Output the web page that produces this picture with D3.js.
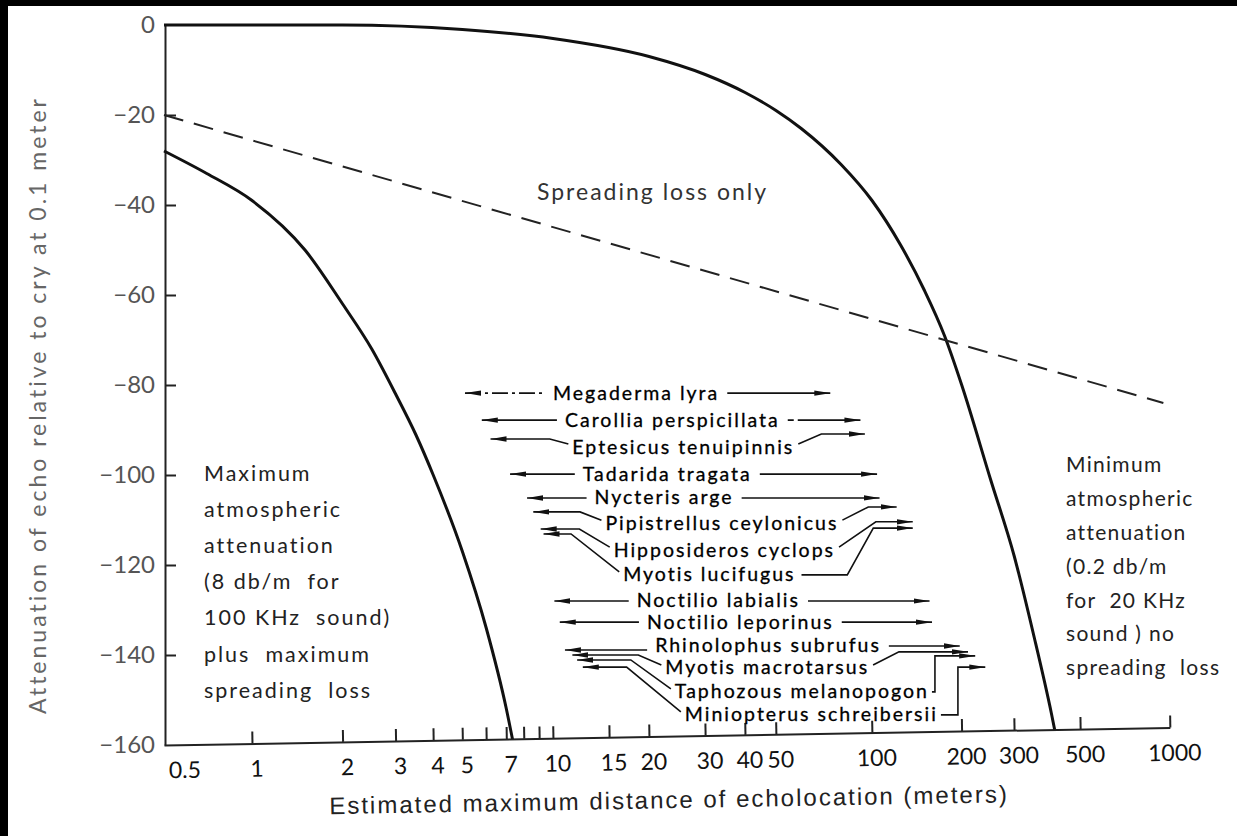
<!DOCTYPE html>
<html><head><meta charset="utf-8">
<script src="https://cdn.jsdelivr.net/npm/d3@7"></script>
<style>
body{margin:0;background:#fff;}
svg{display:block;font-family:Lato,"Noto Sans",sans-serif;}
</style>
</head><body>
<svg id="c" width="1237" height="836"></svg>
<script>
// ---------------- data ----------------
const xTickValues = [0.5,1,2,3,4,5,6,7,8,9,10,15,20,30,40,50,100,200,300,500,1000];
const xTickLabels = [0.5,1,2,3,4,5,7,10,15,20,30,40,50,100,200,300,500,1000];
const yTickValues = [0,-20,-40,-60,-80,-100,-120,-140,-160];

// Minimum atmospheric attenuation (0.2 db/m, 20 KHz), no spreading loss
const minAttDist = [0.5,2,5,10,20,30,40,50,60,80,100,125,150,175,200,250,300,350,400,420];
const minAttDb   = [0,0,-1,-3,-7,-11,-15,-19,-23,-31,-39,-49,-59,-69,-80,-101,-118,-136,-153,-160];

// Maximum atmospheric attenuation (8 db/m, 100 KHz) plus maximum spreading loss
const maxAttDist = [0.5,0.7,1,1.5,2,2.5,3,3.5,4,5,6,7,7.4];
const maxAttDb   = [-28,-33,-39,-50,-62,-72,-82,-91,-100,-117,-134,-152,-160];

// Spreading loss only
const spreadDist = [0.5,950];
const spreadDb   = [-20,-84];

// Bat species echolocation ranges (meters)
const species = ["Megaderma lyra","Carollia perspicillata","Eptesicus tenuipinnis","Tadarida tragata",
  "Nycteris arge","Pipistrellus ceylonicus","Hipposideros cyclops","Myotis lucifugus",
  "Noctilio labialis","Noctilio leporinus","Rhinolophus subrufus","Myotis macrotarsus",
  "Taphozous melanopogon","Miniopterus schreibersii"];
const rangeMin = [5.1,5.8,6.2,7.2,8.2,8.6,9.1,9.3,10.1,10.5,10.9,11.5,11.9,12.4];
const rangeMax = [74,92,95,104,106,121,137,137,156,159,197,210,222,240];
// vertical placement of each annotation row, in dB units
const rowDb        = [-81.8,-87.8,-93.8,-99.8,-105.1,-110.7,-116.7,-122.2,-128.0,-132.7,-137.8,-142.9,-148.2,-153.3];
const leftArrowDb  = [-81.8,-87.8,-92.0,-99.8,-105.1,-108.2,-112.0,-113.1,-128.0,-132.7,-138.9,-140.0,-141.1,-142.7];
const rightArrowDb = [-81.8,-87.8,-90.9,-99.8,-105.1,-107.1,-110.4,-111.8,-128.0,-132.7,-138.0,-139.3,-140.2,-142.7];
// distance at which each label begins
const labelAt = [10.0,10.9,11.5,12.4,13.5,14.6,15.5,16.6,18.3,19.7,20.9,22.5,24.1,25.9];
// distance at which a bent right connector reaches its arrow line (null = automatic)
const rightBendAt = [null,null,null,null,null,null,null,101,null,null,null,null,null,null];

// connector shapes (layout)
const leftShape  = ["dash","line","diag","line","line","diag","diag","diag","line","line","line","diag","diag","diag"];
const rightShape = ["line","dashline","diag","line","line","diag","diag","diag","line","line","line","diag","elbow","elbow"];
const elbowGap   = [0,0,0,0,0,0,0,0,0,0,0,0,6,20];

const leftNote  = ["Maximum","atmospheric","attenuation","(8 db/m  for","100 KHz  sound)","plus  maximum","spreading  loss"];
const rightNote = ["Minimum","atmospheric","attenuation","(0.2 db/m","for  20 KHz","sound ) no","spreading  loss"];

// ---------------- chart ----------------
const svg = d3.select("#c");
svg.append("rect").attr("width",1237).attr("height",836).attr("fill","#fff");

const x = d3.scaleLog().domain([0.5,1,10,100,1000]).range([164,252,553,872,1170]);
const y = d3.scaleLinear().domain([0,-160]).range([25,745]);
const X0 = 165, Y0 = 745, tilt = -1;
const tanT = Math.tan(tilt*Math.PI/180);
const axisYAt = px => Y0 + (px - X0)*tanT;

// clip the curves at the (slightly tilted) x axis
svg.append("clipPath").attr("id","plotclip").append("polygon")
  .attr("points",[[150,0],[1237,0],[1237,axisYAt(1237)],[150,axisYAt(150)]].map(p=>p.join(",")).join(" "));

const defs = svg.append("defs");
defs.append("marker").attr("id","ah").attr("viewBox","0 0 16 6").attr("refX",16).attr("refY",3)
  .attr("markerWidth",16).attr("markerHeight",6).attr("markerUnits","userSpaceOnUse")
  .attr("orient","auto-start-reverse")
  .append("path").attr("d","M0,0.3 L16,3 L0,5.7 Z").attr("fill","#111");

// y axis
const yAxis = d3.axisLeft(y).tickValues(yTickValues).tickSizeInner(-11).tickSizeOuter(0).tickPadding(10)
  .tickFormat(d => d===0 ? "0" : "\u2212"+Math.abs(d));
const gy = svg.append("g").attr("transform",`translate(${X0},0)`).call(yAxis);
gy.select(".domain").attr("stroke","#222").attr("stroke-width",2);
gy.selectAll(".tick line").attr("stroke","#222").attr("stroke-width",2)
  .attr("opacity",d => (d===0||d===-160)?0:1);
gy.selectAll(".tick text").attr("font-size",24).attr("fill","#555").attr("font-family","Lato,sans-serif");

// x axis (tilted like the scanned original)
const labelSet = new Set(xTickLabels);
const xAxis = d3.axisBottom(x).tickValues(xTickValues).tickSizeInner(-12).tickSizeOuter(0).tickPadding(17)
  .tickFormat(d => labelSet.has(d) ? String(d) : "");
const gx = svg.append("g").attr("transform",`rotate(${tilt},${X0},${Y0}) translate(0,${Y0})`).call(xAxis);
gx.select(".domain").attr("stroke","#222").attr("stroke-width",2);
gx.selectAll(".tick line").attr("stroke","#222").attr("stroke-width",2).attr("opacity",d=>d===0.5?0:1);
gx.selectAll(".tick text").attr("font-size",23).attr("fill","#111").attr("font-family","Lato,sans-serif")
  .attr("dx",d => d===0.5 ? 20 : 4);
gx.append("text").attr("x",668).attr("y",72).attr("text-anchor","middle").attr("font-size",24)
  .attr("letter-spacing",2).attr("fill","#222")
  .text("Estimated maximum distance of echolocation (meters)");

// y title
svg.append("text").attr("transform","translate(46,405) rotate(-90)").attr("text-anchor","middle")
  .attr("font-size",23).attr("letter-spacing",3).attr("fill","#666")
  .text("Attenuation of echo relative to cry at 0.1 meter");

// curves
const line = d3.line().x(d=>x(d[0])).y(d=>y(d[1])).curve(d3.curveMonotoneX);
const plot = svg.append("g").attr("clip-path","url(#plotclip)");
plot.append("path").attr("d",line(minAttDist.map((d,i)=>[d,minAttDb[i]])))
  .attr("fill","none").attr("stroke","#111").attr("stroke-width",3);
plot.append("path").attr("d",line(maxAttDist.map((d,i)=>[d,maxAttDb[i]])))
  .attr("fill","none").attr("stroke","#111").attr("stroke-width",3);
plot.append("path").attr("d",d3.line().x(d=>x(d[0])).y(d=>y(d[1]))(spreadDist.map((d,i)=>[d,spreadDb[i]])))
  .attr("fill","none").attr("stroke","#222").attr("stroke-width",2).attr("stroke-dasharray","20,11");

svg.append("text").attr("x",537).attr("y",192).attr("dy","0.35em").attr("font-size",23)
  .attr("letter-spacing",2).attr("fill","#333").text("Spreading loss only");

// side notes
svg.append("g").selectAll("text").data(leftNote).join("text")
  .attr("x",204).attr("y",(d,i)=>473+i*36.2).attr("dy","0.35em").attr("font-size",21.5)
  .attr("letter-spacing",2).attr("fill","#222").style("white-space","pre").text(d=>d);
svg.append("g").selectAll("text").data(rightNote).join("text")
  .attr("x",1066).attr("y",(d,i)=>465+i*33.8).attr("dy","0.35em").attr("font-size",21)
  .attr("letter-spacing",1.3).attr("fill","#222").style("white-space","pre").text(d=>d);

// species ranges
const sg = svg.append("g");
species.forEach((name,i)=>{
  const ly = y(rowDb[i]);
  const lx0 = x(labelAt[i]);
  const t = sg.append("text").attr("x",lx0).attr("y",ly).attr("dy","0.33em")
    .attr("font-size",19.5).attr("letter-spacing",2).attr("fill","#000")
    .attr("stroke","#000").attr("stroke-width",0.3).text(name);
  const lx1 = lx0 + t.node().getComputedTextLength();
  const tipL = x(rangeMin[i]), tipR = x(rangeMax[i]);
  const ayL = y(leftArrowDb[i]), ayR = y(rightArrowDb[i]);
  let dL, dR;
  if (leftShape[i]==="diag") {
    const ey = ly - 3, dy = ey - ayL, dx = 14 + dy*0.9;
    dL = `M${tipL},${ayL}H${lx0-4-dx}L${lx0-4},${ey}`;
  } else dL = `M${tipL},${ayL}H${lx0-8}`;
  if (rightShape[i]==="diag") {
    const sy = ly - 3, dy = sy - ayR;
    if (rightBendAt[i] !== null) {
      const bx = x(rightBendAt[i]), dx = 26;
      dR = `M${lx1+6},${ly}H${bx-dx}L${bx},${ayR}H${tipR}`;
    } else {
      const dx = 14 + dy*0.9;
      dR = `M${lx1+4},${sy}L${lx1+4+dx},${ayR}H${tipR}`;
    }
  } else if (rightShape[i]==="elbow") {
    dR = `M${lx1+3},${ly}H${lx1+elbowGap[i]}V${ayR}H${tipR}`;
  } else dR = `M${lx1+8},${ayR}H${tipR}`;
  sg.append("path").attr("d",dL).attr("fill","none").attr("stroke","#111").attr("stroke-width",1.6)
    .attr("stroke-dasharray",leftShape[i]==="dash"?"16,4,3,4":null).attr("marker-start","url(#ah)");
  sg.append("path").attr("d",dR).attr("fill","none").attr("stroke","#111").attr("stroke-width",1.6)
    .attr("stroke-dasharray",rightShape[i]==="dashline"?"6,4,400":null).attr("marker-end","url(#ah)");
});

// scan border
svg.append("rect").attr("x",0).attr("y",0).attr("width",1237).attr("height",6).attr("fill","#000");
svg.append("rect").attr("x",0).attr("y",0).attr("width",8).attr("height",836).attr("fill","#000");
</script>
</body></html>
